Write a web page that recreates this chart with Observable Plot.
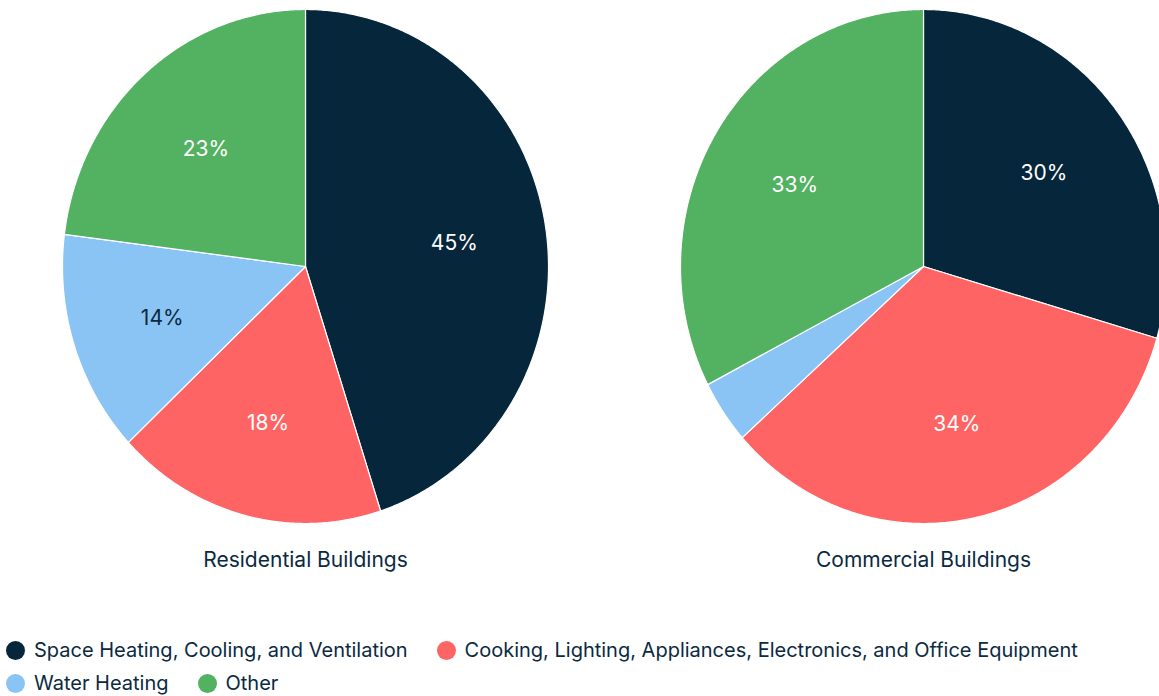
<!DOCTYPE html>
<html>
<head>
<meta charset="utf-8">
<script src="https://cdn.jsdelivr.net/npm/d3@7"></script>
<script src="https://cdn.jsdelivr.net/npm/@observablehq/plot@0.6"></script>
<style>
  html, body { margin: 0; padding: 0; background: #fff; }
  #chart svg { display: block; }
  #legend { display: flex; flex-wrap: wrap; column-gap: 29px; padding: 24px 0 0 6px;
    font-family: Inter, sans-serif; font-size: 20px; color: #0b2a3f; line-height: 33px; width: 1150px; }
  #legend .item { display: flex; align-items: center; white-space: nowrap; }
  #legend .sw { width: 19px; height: 19px; border-radius: 50%; margin-right: 9px; flex: none; }
</style>
</head>
<body>
<div id="chart"></div>
<div id="legend"></div>
<script>
// ---- data ----
const categories = [
  "Space Heating, Cooling, and Ventilation",
  "Cooking, Lighting, Appliances, Electronics, and Office Equipment",
  "Water Heating",
  "Other"
];
const buildings = ["Residential Buildings", "Commercial Buildings"];
const residentialValues = [45, 18, 14, 23];
const commercialValues = [29.5, 33.9, 4.0, 32.6];

// ---- styles / layout ----
const palette = ["#05263b", "#ff6464", "#89c4f5", "#53b162"];
const textColor = "#0b2a3f";
const W = 1159, H = 610;
const pieCenterX = [0, 618 / 243];   // in radius units
const labelRadius = 0.62;
const minLabel = 5;

const series = [residentialValues, commercialValues];
const slices = [];
const labels = [];
buildings.forEach((b, bi) => {
  const vals = series[bi];
  const total = d3.sum(vals);
  let acc = 0;
  vals.forEach((v, ci) => {
    const a0 = acc / total * 2 * Math.PI;
    acc += v;
    const a1 = acc / total * 2 * Math.PI;
    const key = b + "|" + categories[ci];
    slices.push({key, category: categories[ci], x: pieCenterX[bi], y: 0});
    const n = Math.max(2, Math.ceil((a1 - a0) / (Math.PI / 360)));
    for (let i = 0; i <= n; i++) {
      const a = a0 + (a1 - a0) * i / n;
      slices.push({key, category: categories[ci], x: pieCenterX[bi] + Math.sin(a), y: Math.cos(a)});
    }
    const am = (a0 + a1) / 2;
    if (v >= minLabel) labels.push({
      category: categories[ci],
      x: pieCenterX[bi] + labelRadius * Math.sin(am),
      y: labelRadius * Math.cos(am),
      text: Math.round(v) + "%"
    });
  });
});
const titles = buildings.map((b, bi) => ({text: b, x: pieCenterX[bi], y: -(560 - 266) / 257}));

const chart = Plot.plot({
  width: W,
  height: H,
  margin: 0,
  style: {fontFamily: "Inter, sans-serif", background: "white"},
  x: {domain: [-305 / 243, (W - 305) / 243], range: [0, W], axis: null},
  y: {domain: [-(H - 266) / 257, 266 / 257], range: [H, 0], axis: null},
  color: {domain: categories, range: palette},
  marks: [
    Plot.line(slices, {x: "x", y: "y", z: "key", fill: "category", stroke: "white", strokeWidth: 1.2, strokeLinejoin: "round", curve: "linear-closed"}),
    Plot.text(labels.filter(d => d.category !== "Water Heating"), {x: "x", y: "y", dy: 2, text: "text", fill: "white", fontSize: 21, letterSpacing: "0.5px"}),
    Plot.text(labels.filter(d => d.category === "Water Heating"), {x: "x", y: "y", dy: 3, text: "text", fill: textColor, fontSize: 21, letterSpacing: "0.5px"}),
    Plot.text(titles, {x: "x", y: "y", text: "text", fill: textColor, fontSize: 21, letterSpacing: "0.3px"})
  ]
});
chart.querySelectorAll("text").forEach(t => t.style.letterSpacing = t.getAttribute("letter-spacing") || "");
document.getElementById("chart").appendChild(chart);

const legend = document.getElementById("legend");
categories.forEach((c, i) => {
  const item = document.createElement("div");
  item.className = "item";
  const sw = document.createElement("span");
  sw.className = "sw";
  sw.style.background = palette[i];
  item.appendChild(sw);
  item.appendChild(document.createTextNode(c));
  legend.appendChild(item);
});
</script>
</body>
</html>
